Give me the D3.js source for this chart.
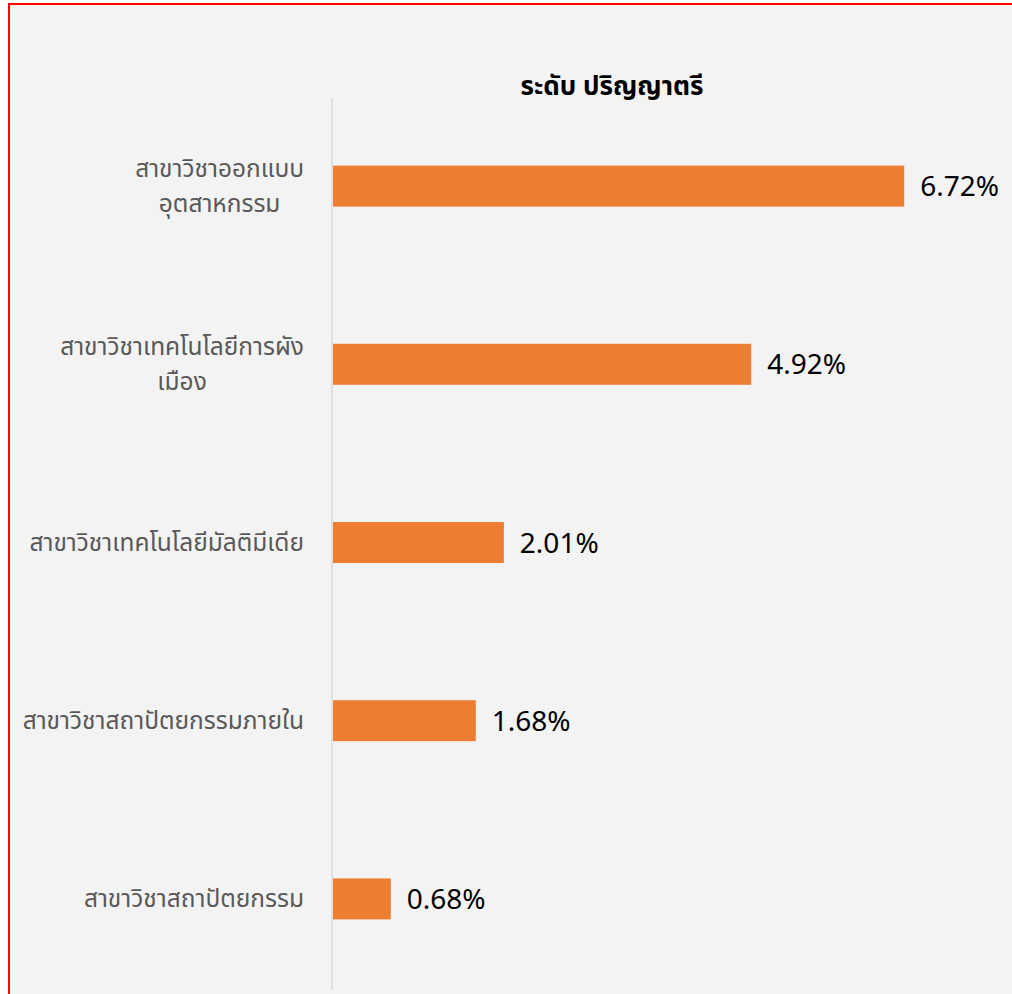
<!DOCTYPE html>
<html>
<head>
<meta charset="utf-8">
<script src="https://cdn.jsdelivr.net/npm/d3@7"></script>
<style>
  html, body { margin: 0; padding: 0; background: #fff; }
  #viz { width: 1012px; height: 994px; }
  text { font-family: "Noto Sans Thai", "Noto Sans", "DejaVu Sans", sans-serif; }
</style>
</head>
<body>
<div id="viz"></div>
<script>
// chart values
const categories = [
  ["สาขาวิชาออกแบบ", "อุตสาหกรรม"],
  ["สาขาวิชาเทคโนโลยีการผัง", "เมือง"],
  ["สาขาวิชาเทคโนโลยีมัลติมีเดีย"],
  ["สาขาวิชาสถาปัตยกรรมภายใน"],
  ["สาขาวิชาสถาปัตยกรรม"]
];
const values = [6.72, 4.92, 2.01, 1.68, 0.68];
const valueLabels = ["6.72%", "4.92%", "2.01%", "1.68%", "0.68%"];
const title = "ระดับ ปริญญาตรี";

const W = 1012, H = 994;
const svg = d3.select("#viz").append("svg").attr("width", W).attr("height", H);

// page background + red frame
svg.append("rect").attr("x", 0).attr("y", 0).attr("width", W).attr("height", H).attr("fill", "#fff");
svg.append("rect")
  .attr("x", 9).attr("y", 4).attr("width", W + 10).attr("height", H + 10)
  .attr("fill", "#f3f3f3")
  .attr("stroke", "#ff0000").attr("stroke-width", 2);

const idx = d3.range(values.length);

const x = d3.scaleLinear().domain([0, 1]).range([333, 418]);

const y = d3.scaleBand()
  .domain(idx)
  .range([97, 988])
  .paddingInner(0.77)
  .paddingOuter(0.385);

// axis line
svg.append("line")
  .attr("x1", 332).attr("x2", 332)
  .attr("y1", 98).attr("y2", 990)
  .attr("stroke", "#d9d9d9").attr("stroke-width", 1.5);

// bars
svg.selectAll("rect.bar")
  .data(idx)
  .join("rect")
  .attr("class", "bar")
  .attr("x", x(0))
  .attr("y", i => y(i))
  .attr("width", i => x(values[i]) - x(0))
  .attr("height", y.bandwidth())
  .attr("fill", "#ed7d31");

// value labels
svg.selectAll("text.val")
  .data(idx)
  .join("text")
  .attr("class", "val")
  .attr("x", i => x(values[i]) + 16)
  .attr("y", i => y(i) + y.bandwidth() / 2)
  .attr("dy", "0.36em")
  .attr("font-size", 28)
  .attr("fill", "#000")
  .text(i => valueLabels[i]);

// category labels: block right-aligned to the axis, lines centred within the block
const labelRight = 304;
const lab = svg.selectAll("text.cat")
  .data(idx)
  .join("text")
  .attr("class", "cat")
  .attr("text-anchor", "middle")
  .attr("font-size", 24.5)
  .attr("fill", "#595959");

lab.each(function(i) {
  const lines = categories[i];
  const cy = y(i) + y.bandwidth() / 2;
  const lh = 35;
  const t = d3.select(this);
  const spans = lines.map((s, k) => t.append("tspan")
      .attr("y", cy + (k - (lines.length - 1) / 2) * lh)
      .attr("dy", "0.35em")
      .text(s));
  const maxW = d3.max(spans, sp => sp.node().getComputedTextLength());
  spans.forEach(sp => sp.attr("x", labelRight - maxW / 2));
});

// title
svg.append("text")
  .attr("x", 612).attr("y", 86)
  .attr("dy", "0.35em")
  .attr("text-anchor", "middle")
  .attr("font-size", 26)
  .attr("font-weight", 700)
  .attr("fill", "#000")
  .text(title);
</script>
</body>
</html>
